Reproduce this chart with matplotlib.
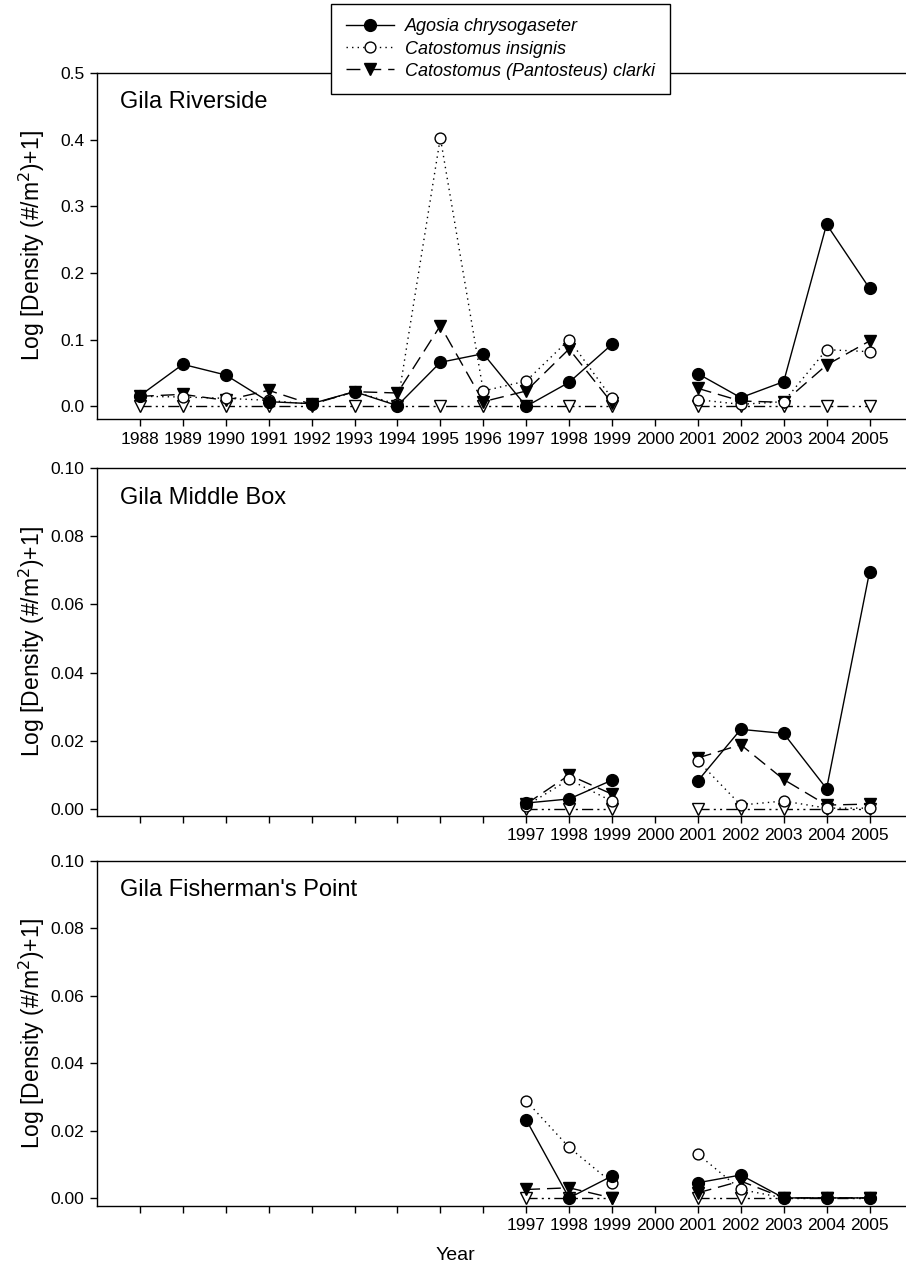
import matplotlib
matplotlib.use("Agg")
import matplotlib.pyplot as plt
import numpy as np
from matplotlib.ticker import FormatStrFormatter

plt.rcParams['font.family'] = ['Liberation Sans', 'DejaVu Sans']

nan = np.nan
years = list(range(1988, 2006))
late_years = [1997, 1998, 1999, 2000, 2001, 2002, 2003, 2004, 2005]

species = ['Agosia chrysogaseter', 'Catostomus insignis', 'Catostomus (Pantosteus) clarki']

# Gila Riverside, 1988-2005 (no sample in 2000)
riv_agosia = [0.016, 0.063, 0.047, 0.007, 0.004, 0.022, 0.001, 0.066, 0.079, 0.000, 0.036, 0.093,
              nan, 0.049, 0.013, 0.037, 0.273, 0.177]
riv_insignis = [0.015, 0.014, 0.012, 0.009, 0.003, 0.022, 0.003, 0.403, 0.023, 0.038, 0.100, 0.012,
                nan, 0.010, 0.003, 0.007, 0.085, 0.082]
riv_clarki = [0.015, 0.018, 0.009, 0.024, 0.003, 0.022, 0.020, 0.121, 0.007, 0.023, 0.086, 0.005,
              nan, 0.027, 0.008, 0.006, 0.062, 0.098]
riv_other = [0.0] * 12 + [nan] + [0.0] * 5

# Gila Middle Box, 1997-2005
mid_agosia = [0.0018, 0.0030, 0.0085, nan, 0.0083, 0.0234, 0.0222, 0.0060, 0.0695]
mid_insignis = [0.0010, 0.0087, 0.0023, nan, 0.0142, 0.0012, 0.0024, 0.0003, 0.0003]
mid_clarki = [0.0015, 0.0100, 0.0044, nan, 0.0150, 0.0189, 0.0087, 0.0012, 0.0015]
mid_other = [0.0, 0.0, 0.0, nan, 0.0, 0.0, 0.0, 0.0, 0.0]

# Gila Fisherman's Point, 1997-2005
fish_agosia = [0.0232, 0.0000, 0.0065, nan, 0.0045, 0.0068, 0.0000, 0.0000, 0.0000]
fish_insignis = [0.0288, 0.0150, 0.0045, nan, 0.0130, 0.0025, 0.0000, 0.0000, 0.0000]
fish_clarki = [0.0025, 0.0030, 0.0000, nan, 0.0015, 0.0050, 0.0000, 0.0000, 0.0000]
fish_other = [0.0, 0.0, 0.0, nan, 0.0, 0.0, 0.0, 0.0, 0.0]

W, H = 906, 1280
fig = plt.figure(figsize=(W / 100, H / 100), dpi=100)


def box(left, top, bottom):
    # pixel edges -> figure fraction
    return [left / W, 1 - bottom / H, (W - left) / W, (bottom - top) / H]


def draw(ax, x, a, b, c, d, name, ymax, ystep, ymin, fmt, labelled):
    ax.plot(x, d, color='black', lw=1, ls=(0, (8, 3, 1.5, 3, 1.5, 3)),
            marker='v', ms=9, mfc='white', mec='black', mew=1)
    ax.plot(x, c, color='black', lw=1, ls=(0, (10, 5)),
            marker='v', ms=9, mfc='black', mec='black', label=species[2])
    ax.plot(x, b, color='black', lw=1, ls=(0, (1, 3)),
            marker='o', ms=7.8, mfc='white', mec='black', mew=1, label=species[1])
    ax.plot(x, a, color='black', lw=1, ls='-',
            marker='o', ms=8.5, mfc='black', mec='black', label=species[0])

    ax.set_xlim(1987.0, 2005.85)
    ax.set_ylim(ymin, ymax)
    ax.set_yticks(np.arange(0, ymax + ystep / 2, ystep))
    ax.yaxis.set_major_formatter(FormatStrFormatter(fmt))
    ax.set_xticks(years)
    ax.set_xticklabels([str(y) if y in labelled else '' for y in years])
    ax.spines['right'].set_visible(False)
    for s in ax.spines.values():
        s.set_linewidth(1)
    ax.tick_params(direction='out', length=5, width=1, labelsize=12.5, pad=4)
    ax.set_ylabel('Log [Density (#/m$^2$)+1]', fontsize=16.5)
    ax.yaxis.set_label_coords(-0.062, 0.5)
    ax.text(0.028, 0.915, name, transform=ax.transAxes, fontsize=17, va='center', ha='left')


ax1 = fig.add_axes(box(97, 73, 419))
draw(ax1, years, riv_agosia, riv_insignis, riv_clarki, riv_other,
     'Gila Riverside', 0.5, 0.1, -0.019, '%.1f', years)

ax2 = fig.add_axes(box(97, 468, 816))
draw(ax2, late_years, mid_agosia, mid_insignis, mid_clarki, mid_other,
     'Gila Middle Box', 0.1, 0.02, -0.002, '%.2f', late_years)

ax3 = fig.add_axes(box(97, 861, 1206))
draw(ax3, late_years, fish_agosia, fish_insignis, fish_clarki, fish_other,
     "Gila Fisherman's Point", 0.1, 0.02, -0.0024, '%.2f', late_years)
ax3.set_xlabel('Year', fontsize=14)
ax3.xaxis.set_label_coords(0.4425, -0.12)

handles, labels = ax1.get_legend_handles_labels()
order = [2, 1, 0]
leg = fig.legend([handles[i] for i in order], [labels[i] for i in order],
                 loc='upper center', bbox_to_anchor=(500.5 / W, 1 - 4 / H),
                 prop={'style': 'italic', 'size': 13}, frameon=True, fancybox=False,
                 edgecolor='black', framealpha=1, handlelength=2.7, labelspacing=0.28,
                 borderpad=0.8, handletextpad=0.6, borderaxespad=0)
leg.get_frame().set_linewidth(1)

fig.savefig('out.png', dpi=100)
